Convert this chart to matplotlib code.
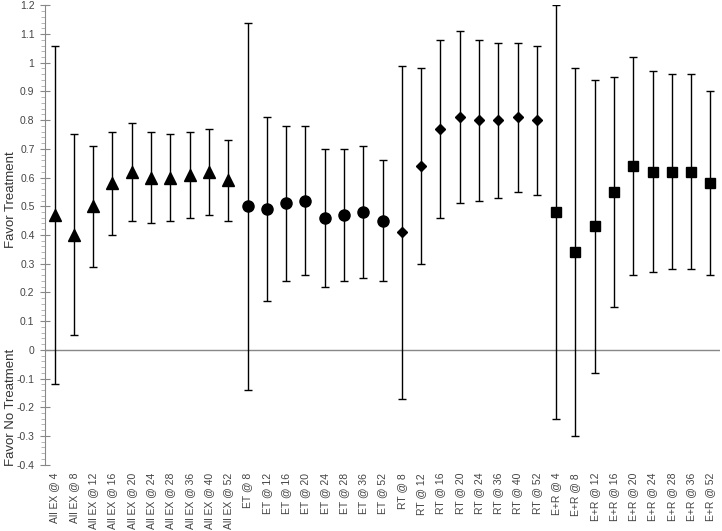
import matplotlib
matplotlib.use("Agg")
import matplotlib.pyplot as plt
import numpy as np
from matplotlib.ticker import MultipleLocator, FuncFormatter

plt.rcParams["font.family"] = ["Liberation Sans", "DejaVu Sans"]

# --- data ---
groups = ["All EX", "ET", "RT", "E+R"]
weeks = {
    "All EX": [4, 8, 12, 16, 20, 24, 28, 36, 40, 52],
    "ET": [8, 12, 16, 20, 24, 28, 36, 52],
    "RT": [8, 12, 16, 20, 24, 36, 40, 52],
    "E+R": [4, 8, 12, 16, 20, 24, 28, 36, 52],
}
estimate = {
    "All EX": [0.47, 0.40, 0.50, 0.58, 0.62, 0.60, 0.60, 0.61, 0.62, 0.59],
    "ET": [0.50, 0.49, 0.51, 0.52, 0.46, 0.47, 0.48, 0.45],
    "RT": [0.41, 0.64, 0.77, 0.81, 0.80, 0.80, 0.81, 0.80],
    "E+R": [0.48, 0.34, 0.43, 0.55, 0.64, 0.62, 0.62, 0.62, 0.58],
}
upper = {
    "All EX": [1.06, 0.75, 0.71, 0.76, 0.79, 0.76, 0.75, 0.76, 0.77, 0.73],
    "ET": [1.14, 0.81, 0.78, 0.78, 0.70, 0.70, 0.71, 0.66],
    "RT": [0.99, 0.98, 1.08, 1.11, 1.08, 1.07, 1.07, 1.06],
    "E+R": [1.20, 0.98, 0.94, 0.95, 1.02, 0.97, 0.96, 0.96, 0.90],
}
lower = {
    "All EX": [-0.12, 0.05, 0.29, 0.40, 0.45, 0.44, 0.45, 0.46, 0.47, 0.45],
    "ET": [-0.14, 0.17, 0.24, 0.26, 0.22, 0.24, 0.25, 0.24],
    "RT": [-0.17, 0.30, 0.46, 0.51, 0.52, 0.53, 0.55, 0.54],
    "E+R": [-0.24, -0.30, -0.08, 0.15, 0.26, 0.27, 0.28, 0.28, 0.26],
}
markers = {"All EX": ("^", 8), "ET": ("o", 8), "RT": ("D", 5.5), "E+R": ("s", 7.5)}

fig = plt.figure(figsize=(7.22, 5.31), dpi=100)
ax = fig.add_axes([0.0623, 0.125, 0.935, 0.865])

labels = []
pos = 0
for g in groups:
    n = len(weeks[g])
    x = np.arange(pos, pos + n)
    est = np.array(estimate[g])
    yerr = [est - np.array(lower[g]), np.array(upper[g]) - est]
    m, ms = markers[g]
    ax.errorbar(x, est, yerr=yerr, fmt=m, color="black", ms=ms,
                ecolor="black", elinewidth=1.0, capsize=3, capthick=1.0)
    labels += [f"{g} @ {w}" for w in weeks[g]]
    pos += n

ax.axhline(0, color="#888888", lw=1.0, zorder=0)

ax.set_xlim(-0.5, pos - 0.5)
ax.set_ylim(-0.4, 1.2)
ax.set_xticks(np.arange(pos))
ax.set_xticklabels(labels, rotation=90, fontsize=7.5, color="#444444")
ax.tick_params(axis="x", length=0, pad=6)

ax.yaxis.set_major_locator(MultipleLocator(0.1))
ax.yaxis.set_minor_locator(MultipleLocator(0.02))
ax.yaxis.set_major_formatter(FuncFormatter(lambda v, p: f"{round(v, 1):g}"))
ax.tick_params(axis="y", which="major", direction="inout", length=7, pad=4,
               color="#888888", labelsize=7.5, labelcolor="#444444")
ax.tick_params(axis="y", which="minor", direction="out", length=3, color="#aaaaaa")

for s in ["top", "right", "bottom"]:
    ax.spines[s].set_visible(False)
ax.spines["left"].set_color("#888888")

fig.text(0.015, 0.625, "Favor Treatment", rotation=90, va="center", ha="center",
         fontsize=9.5, color="#333333")
fig.text(0.015, 0.233, "Favor No Treatment", rotation=90, va="center", ha="center",
         fontsize=9.5, color="#333333")

fig.savefig("out.png", dpi=100)
